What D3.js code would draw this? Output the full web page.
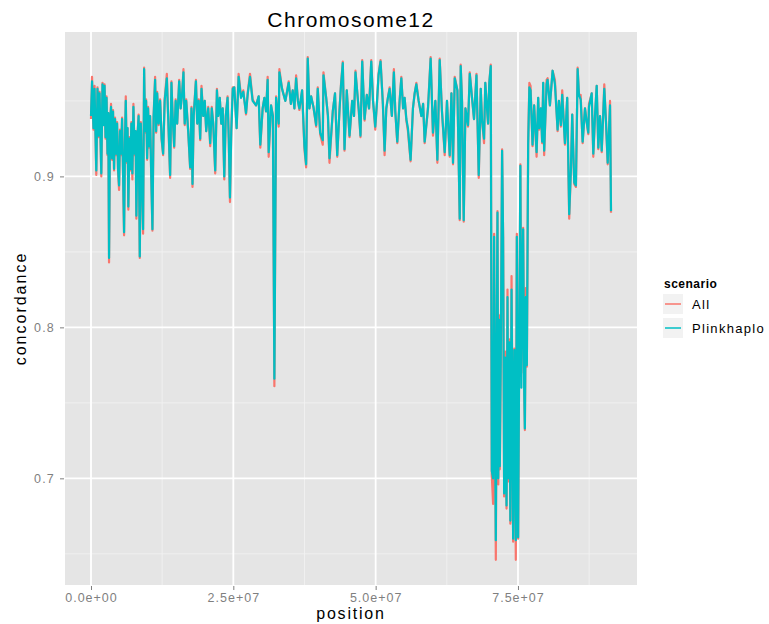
<!DOCTYPE html>
<html>
<head>
<meta charset="utf-8">
<script src="https://d3js.org/d3.v7.min.js"></script>
<style>
body { margin: 0; background: #fff; }
text { font-family: "Liberation Sans", Arial, sans-serif; }
</style>
</head>
<body>
<script>
// position along chromosome 12, in Mb
var positionMb = [
0.00,0.18,0.44,0.62,0.93,1.14,1.32,1.50,1.81,2.02,
2.20,2.38,2.55,2.73,2.90,3.04,3.17,3.34,3.52,3.70,
3.87,4.05,4.22,4.40,4.58,4.75,4.93,5.10,5.28,5.46,
5.63,5.81,5.98,6.11,6.28,6.42,6.56,6.74,6.92,7.09,
7.27,7.45,7.66,7.83,7.97,8.15,8.36,8.57,8.75,8.92,
9.15,9.33,9.50,9.68,9.86,10.03,10.21,10.38,10.56,10.79,
11.00,11.26,11.44,11.62,11.88,12.14,12.41,12.67,12.94,13.32,
13.55,13.90,14.13,14.34,14.61,14.87,15.14,15.49,15.75,16.02,
16.24,16.46,16.72,17.07,17.42,17.65,17.83,18.04,18.43,18.66,
18.92,19.18,19.41,19.71,19.98,20.24,20.59,20.94,21.21,21.47,
21.82,22.12,22.35,22.62,22.88,23.14,23.41,23.67,23.99,24.20,
24.41,24.64,24.90,
25.17,25.58,25.93,26.35,26.75,27.23,27.54,27.93,28.39,28.99,
29.45,29.74,30.15,30.45,30.75,31.03,31.21,31.63,31.95,32.21,
32.51,32.97,33.09,33.56,34.14,34.73,35.11,35.43,35.73,36.03,
36.34,36.61,37.08,37.49,37.79,38.07,38.37,38.67,39.07,39.55,
39.83,40.25,40.71,40.83,41.31,41.62,41.89,42.47,42.86,43.25,
43.65,43.91,44.23,44.53,44.93,45.41,45.88,46.20,46.46,47.04,
47.34,47.64,48.05,48.45,48.84,49.23,49.54,49.93,50.25,50.51,
50.86,51.27,51.57,51.87,52.15,52.45,52.85,53.20,53.45,53.80,
54.21,54.51,54.82,55.09,55.39,55.67,56.14,56.55,56.85,57.15,
57.55,58.03,58.34,58.61,59.19,59.66,60.07,60.49,60.84,61.25,
61.65,62.13,62.53,63.01,63.31,63.59,63.89,64.36,64.77,64.94,
65.17,65.47,65.77,66.23,66.53,66.93,67.28,67.71,68.11,68.46,
68.69,69.04,69.26,69.47,69.75,69.96,70.22,
70.40,70.63,70.81,70.93,71.11,71.28,71.40,71.54,71.68,71.81,
71.98,72.21,72.39,72.57,72.74,72.99,73.16,73.30,73.48,73.66,
73.87,74.01,74.15,74.36,74.62,74.80,75.03,75.24,75.42,75.59,
75.77,75.91,76.09,76.21,76.38,76.56,76.79,77.00,
77.21,77.56,77.84,78.27,78.55,78.73,79.02,79.25,79.43,79.60,
80.03,80.20,80.61,81.08,81.49,81.96,82.19,82.54,82.77,83.25,
83.65,84.00,84.30,84.53,84.88,85.18,85.48,85.71,86.01,86.36,
86.77,87.07,87.35,87.47,87.95,88.23,88.53,88.83,89.11,89.41,
89.71,90.16,90.46,90.76,91.17,91.34
];

var concordanceAll = [
0.938,0.966,0.931,0.960,0.901,0.959,0.926,0.956,0.900,0.962,
0.934,0.961,0.925,0.953,0.914,0.942,0.843,0.935,0.948,0.911,
0.944,0.904,0.939,0.914,0.936,0.904,0.891,0.931,0.914,0.939,
0.902,0.861,0.925,0.953,0.909,0.932,0.878,0.926,0.904,0.936,
0.898,0.948,0.914,0.930,0.872,0.925,0.941,0.846,0.936,0.904,
0.862,0.972,0.929,0.951,0.911,0.946,0.919,0.940,0.904,0.864,
0.940,0.966,0.929,0.956,0.934,0.951,0.924,0.914,0.951,0.968,
0.940,0.899,0.963,0.940,0.919,0.951,0.935,0.964,0.945,0.956,
0.971,0.934,0.951,0.930,0.905,0.946,0.893,0.941,0.964,0.935,
0.951,0.924,0.960,0.940,0.950,0.930,0.946,0.920,0.946,0.935,
0.902,0.958,0.940,0.952,0.935,0.945,0.898,0.940,0.953,0.925,
0.883,0.930,0.959,
0.959,0.932,0.968,0.953,0.957,0.941,0.956,0.968,0.951,0.947,
0.953,0.919,0.945,0.952,0.943,0.966,0.913,0.947,0.940,0.761,
0.953,0.933,0.971,0.958,0.950,0.963,0.948,0.957,0.945,0.967,
0.950,0.944,0.957,0.918,0.906,0.979,0.945,0.953,0.946,0.933,
0.959,0.928,0.921,0.969,0.952,0.940,0.909,0.943,0.955,0.913,
0.944,0.961,0.976,0.917,0.957,0.926,0.950,0.940,0.970,0.943,
0.926,0.977,0.937,0.954,0.945,0.977,0.950,0.931,0.950,0.968,
0.977,0.948,0.914,0.945,0.952,0.959,0.940,0.971,0.943,0.922,
0.950,0.966,0.945,0.952,0.937,0.930,0.910,0.945,0.955,0.962,
0.950,0.940,0.948,0.922,0.945,0.979,0.927,0.950,0.909,0.978,
0.943,0.914,0.950,0.913,0.955,0.908,0.966,0.957,0.871,0.974,
0.950,0.870,0.945,0.933,0.969,0.952,0.938,0.968,0.899,0.958,
0.937,0.922,0.962,0.950,0.935,0.962,0.974,
0.702,0.683,0.862,0.760,0.646,0.802,0.877,0.696,0.808,0.706,
0.782,0.918,0.860,0.688,0.784,0.680,0.825,0.698,0.792,0.670,
0.834,0.750,0.658,0.786,0.646,0.862,0.660,0.802,0.908,0.770,
0.832,0.866,0.758,0.732,0.826,0.774,0.922,0.962,
0.960,0.920,0.947,0.913,0.952,0.931,0.945,0.922,0.962,0.914,
0.964,0.965,0.947,0.970,0.964,0.930,0.950,0.933,0.957,0.921,
0.952,0.872,0.905,0.941,0.895,0.893,0.972,0.954,0.954,0.922,
0.945,0.936,0.928,0.948,0.955,0.913,0.940,0.960,0.918,0.940,
0.916,0.961,0.936,0.908,0.950,0.876
];

var concordancePlink = [
0.940,0.963,0.932,0.958,0.904,0.958,0.927,0.955,0.902,0.961,
0.934,0.960,0.926,0.952,0.915,0.942,0.846,0.935,0.946,0.912,
0.943,0.905,0.938,0.915,0.935,0.905,0.894,0.930,0.915,0.938,
0.903,0.863,0.925,0.950,0.910,0.932,0.880,0.925,0.905,0.935,
0.902,0.946,0.915,0.930,0.874,0.925,0.940,0.847,0.935,0.905,
0.865,0.971,0.930,0.950,0.912,0.945,0.920,0.940,0.905,0.865,
0.940,0.964,0.930,0.955,0.935,0.950,0.925,0.915,0.950,0.965,
0.940,0.901,0.962,0.940,0.920,0.950,0.935,0.963,0.945,0.955,
0.969,0.935,0.950,0.930,0.906,0.945,0.895,0.940,0.963,0.935,
0.950,0.925,0.958,0.940,0.950,0.930,0.945,0.922,0.945,0.935,
0.904,0.957,0.940,0.952,0.935,0.945,0.900,0.940,0.952,0.925,
0.886,0.930,0.958,
0.959,0.932,0.966,0.952,0.956,0.942,0.955,0.966,0.950,0.947,
0.953,0.921,0.945,0.952,0.943,0.964,0.916,0.947,0.940,0.766,
0.952,0.935,0.969,0.958,0.950,0.962,0.948,0.957,0.945,0.965,
0.950,0.945,0.957,0.920,0.908,0.978,0.945,0.953,0.946,0.934,
0.958,0.929,0.924,0.967,0.952,0.940,0.912,0.943,0.955,0.914,
0.944,0.960,0.975,0.918,0.957,0.927,0.950,0.940,0.969,0.944,
0.927,0.976,0.938,0.954,0.945,0.976,0.950,0.933,0.950,0.967,
0.976,0.948,0.917,0.945,0.952,0.958,0.940,0.969,0.943,0.923,
0.950,0.965,0.945,0.952,0.938,0.932,0.911,0.945,0.955,0.961,
0.950,0.940,0.948,0.923,0.945,0.978,0.929,0.950,0.911,0.977,
0.943,0.916,0.950,0.914,0.955,0.909,0.965,0.957,0.872,0.973,
0.950,0.871,0.945,0.934,0.968,0.952,0.938,0.967,0.901,0.958,
0.937,0.925,0.962,0.950,0.935,0.962,0.973,
0.705,0.700,0.860,0.760,0.659,0.800,0.876,0.700,0.805,0.708,
0.780,0.917,0.860,0.690,0.780,0.682,0.820,0.700,0.790,0.672,
0.825,0.750,0.660,0.785,0.659,0.860,0.661,0.800,0.907,0.760,
0.830,0.865,0.760,0.733,0.820,0.775,0.921,0.959,
0.957,0.921,0.947,0.916,0.952,0.932,0.945,0.923,0.962,0.917,
0.961,0.964,0.947,0.970,0.961,0.931,0.950,0.934,0.954,0.922,
0.952,0.875,0.905,0.941,0.896,0.894,0.971,0.954,0.951,0.923,
0.945,0.936,0.929,0.946,0.955,0.915,0.940,0.960,0.919,0.940,
0.917,0.958,0.936,0.909,0.947,0.877
];

var scenarios = ["All", "Plinkhaplo"];
var colors = ["#F8766D", "#00BFC4"];
var xTicks = [0, 2.5e7, 5e7, 7.5e7];
var xTickLabels = ["0.0e+00", "2.5e+07", "5.0e+07", "7.5e+07"];
var yTicks = [0.7, 0.8, 0.9];
var yTickLabels = ["0.7", "0.8", "0.9"];

var w = 769, h = 624;
var panel = {left: 65, right: 637, top: 32, bottom: 585};

var svg = d3.select("body").append("svg")
    .attr("width", w)
    .attr("height", h);

var pos = positionMb.map(function(d) { return d * 1e6; });
var series = [concordanceAll, concordancePlink];

// ggplot style 5% expansion
var xExt = d3.extent(pos);
var xPad = (xExt[1] - xExt[0]) * 0.05;
var allY = concordanceAll.concat(concordancePlink);
var yExt = d3.extent(allY);
var yPad = (yExt[1] - yExt[0]) * 0.05;

var x = d3.scaleLinear()
    .domain([xExt[0] - xPad, xExt[1] + xPad])
    .range([panel.left, panel.right]);
var y = d3.scaleLinear()
    .domain([yExt[0] - yPad, yExt[1] + yPad])
    .range([panel.bottom, panel.top]);

svg.append("rect")
    .attr("x", panel.left).attr("y", panel.top)
    .attr("width", panel.right - panel.left)
    .attr("height", panel.bottom - panel.top)
    .attr("fill", "#E5E5E5");

// minor grid
var xMinor = [-1.25e7, 1.25e7, 3.75e7, 6.25e7, 8.75e7].filter(function(v) {
    return v > x.domain()[0] && v < x.domain()[1]; });
var yMinor = [0.65, 0.75, 0.85, 0.95];

svg.selectAll(".xminor").data(xMinor).enter().append("line")
    .attr("x1", function(d) { return x(d); }).attr("x2", function(d) { return x(d); })
    .attr("y1", panel.top).attr("y2", panel.bottom)
    .attr("stroke", "#F2F2F2").attr("stroke-width", 0.8);
svg.selectAll(".yminor").data(yMinor).enter().append("line")
    .attr("y1", function(d) { return y(d); }).attr("y2", function(d) { return y(d); })
    .attr("x1", panel.left).attr("x2", panel.right)
    .attr("stroke", "#F2F2F2").attr("stroke-width", 0.8);

// major grid
svg.selectAll(".xmajor").data(xTicks).enter().append("line")
    .attr("x1", function(d) { return x(d); }).attr("x2", function(d) { return x(d); })
    .attr("y1", panel.top).attr("y2", panel.bottom)
    .attr("stroke", "#FFFFFF").attr("stroke-width", 1.8);
svg.selectAll(".ymajor").data(yTicks).enter().append("line")
    .attr("y1", function(d) { return y(d); }).attr("y2", function(d) { return y(d); })
    .attr("x1", panel.left).attr("x2", panel.right)
    .attr("stroke", "#FFFFFF").attr("stroke-width", 1.8);

// lines
var line = d3.line()
    .x(function(d, i) { return x(pos[i]); })
    .y(function(d) { return y(d); });

series.forEach(function(s, k) {
    svg.append("path")
        .datum(s)
        .attr("d", line)
        .attr("fill", "none")
        .attr("stroke", colors[k])
        .attr("stroke-width", 2.2)
        .attr("stroke-linejoin", "round");
});

// axes
var xAxis = d3.axisBottom(x)
    .tickValues(xTicks)
    .tickFormat(function(d, i) { return xTickLabels[i]; })
    .tickSize(4).tickPadding(3);
var gx = svg.append("g")
    .attr("transform", "translate(0," + (panel.bottom + 1) + ")")
    .call(xAxis);
gx.select(".domain").remove();
gx.selectAll("line").attr("stroke", "#7F7F7F");
gx.selectAll("text").attr("fill", "#7F7F7F")
    .style("font-size", "12.5px").style("letter-spacing", "1px");

var yAxis = d3.axisLeft(y)
    .tickValues(yTicks)
    .tickFormat(function(d, i) { return yTickLabels[i]; })
    .tickSize(4).tickPadding(5);
var gy = svg.append("g")
    .attr("transform", "translate(" + (panel.left - 1) + ",0)")
    .call(yAxis);
gy.select(".domain").remove();
gy.selectAll("line").attr("stroke", "#7F7F7F");
gy.selectAll("text").attr("fill", "#7F7F7F")
    .style("font-size", "12.5px").style("letter-spacing", "1.2px");

// titles
svg.append("text")
    .attr("x", (panel.left + panel.right) / 2).attr("y", 27)
    .attr("text-anchor", "middle")
    .style("font-size", "21px").style("letter-spacing", "1.5px")
    .text("Chromosome12");

svg.append("text")
    .attr("x", (panel.left + panel.right) / 2).attr("y", 619)
    .attr("text-anchor", "middle")
    .style("font-size", "16px").style("letter-spacing", "1.8px")
    .text("position");

svg.append("text")
    .attr("transform", "translate(26," + ((panel.top + panel.bottom) / 2) + ") rotate(-90)")
    .attr("text-anchor", "middle")
    .style("font-size", "16px").style("letter-spacing", "2px")
    .text("concordance");

// legend
var lg = svg.append("g").attr("transform", "translate(663,276)");
lg.append("text")
    .attr("x", 1).attr("y", 12)
    .style("font-size", "12px").style("font-weight", "bold")
    .style("letter-spacing", "0.5px")
    .text("scenario");

var keys = lg.selectAll(".key").data(scenarios).enter().append("g")
    .attr("transform", function(d, i) { return "translate(0," + (18 + i * 24) + ")"; });
keys.append("rect")
    .attr("width", 20).attr("height", 20)
    .attr("fill", "#F2F2F2");
keys.append("line")
    .attr("x1", 2).attr("x2", 18).attr("y1", 10).attr("y2", 10)
    .attr("stroke", function(d, i) { return colors[i]; })
    .attr("stroke-width", 1.5);
keys.append("text")
    .attr("x", 29).attr("y", 15)
    .style("font-size", "13px").style("letter-spacing", "1.3px")
    .text(function(d) { return d; });
</script>
</body>
</html>
